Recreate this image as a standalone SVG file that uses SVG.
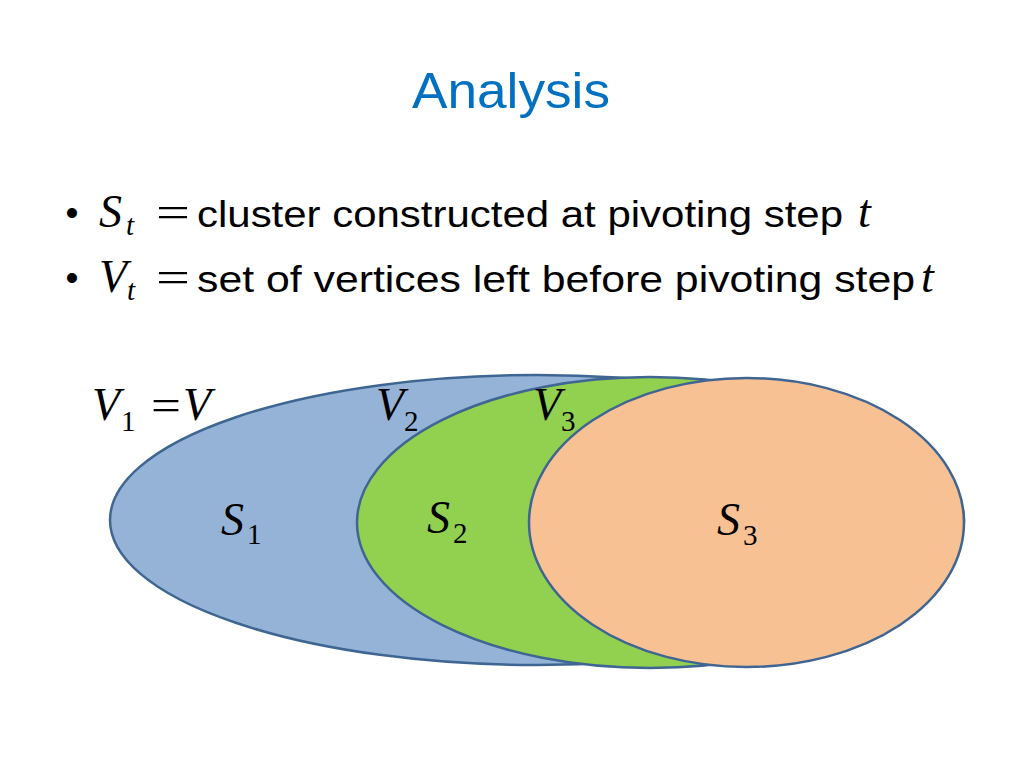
<svg xmlns="http://www.w3.org/2000/svg" width="1024" height="768" viewBox="0 0 1024 768">
  <style>
    .title { font-family: "Liberation Sans", Arial, sans-serif; font-size: 50px; fill: #0070C0; }
    .body { font-family: "Liberation Sans", Arial, sans-serif; font-size: 37px; fill: #000; }
    .math { font-family: "Liberation Serif", "Times New Roman", serif; font-style: italic; font-size: 46px; fill: #000; }
    .sub { font-family: "Liberation Serif", "Times New Roman", serif; font-size: 29px; }
    .subi { font-family: "Liberation Serif", "Times New Roman", serif; font-style: italic; font-size: 29px; }
    .eq { font-family: "Liberation Serif", "Times New Roman", serif; font-style: normal; font-size: 44px; fill: #000; }
    .set { stroke: #3F6592; stroke-width: 2.5; }
  </style>
  <rect width="1024" height="768" fill="#FFFFFF"/>

  <text class="title" x="412" y="108" textLength="198" lengthAdjust="spacingAndGlyphs">Analysis</text>

  <g id="bullet1">
    <text class="body" x="72" y="225" text-anchor="middle">•</text>
    <text class="math" x="99" y="227">S</text>
    <text class="subi" x="126" y="235">t</text>
    <text class="eq" x="156" y="227" textLength="34" lengthAdjust="spacingAndGlyphs">=</text>
    <text class="body" x="197" y="227" textLength="646" lengthAdjust="spacingAndGlyphs">cluster constructed at pivoting step</text>
    <text class="math" x="858" y="227">t</text>
  </g>
  <g id="bullet2">
    <text class="body" x="72" y="290" text-anchor="middle">•</text>
    <text class="math" x="99" y="292">V</text>
    <text class="subi" x="127" y="300">t</text>
    <text class="eq" x="156" y="292" textLength="34" lengthAdjust="spacingAndGlyphs">=</text>
    <text class="body" x="197" y="292" textLength="718" lengthAdjust="spacingAndGlyphs">set of vertices left before pivoting step</text>
    <text class="math" x="921" y="292">t</text>
  </g>

  <g id="S1">
    <ellipse class="set" cx="537" cy="520" rx="427" ry="145" fill="#95B3D7"/>
  </g>
  <g id="S2">
    <ellipse class="set" cx="650" cy="522.5" rx="293" ry="145.5" fill="#92D050"/>
  </g>
  <g id="S3">
    <ellipse class="set" cx="746.5" cy="522.5" rx="217.5" ry="144.5" fill="#F8C193"/>
  </g>

  <g id="labels">
    <text class="math" x="92" y="420">V</text>
    <text class="sub" x="121" y="431">1</text>
    <text class="eq" x="151" y="420" textLength="30" lengthAdjust="spacingAndGlyphs">=</text>
    <text class="math" x="183" y="420">V</text>

    <text class="math" x="376" y="420">V</text>
    <text class="sub" x="404" y="431">2</text>

    <text class="math" x="533" y="420">V</text>
    <text class="sub" x="561" y="431">3</text>

    <text class="math" x="221" y="535">S</text>
    <text class="sub" x="247" y="544">1</text>

    <text class="math" x="427" y="533">S</text>
    <text class="sub" x="453" y="543">2</text>

    <text class="math" x="717" y="535">S</text>
    <text class="sub" x="743" y="545">3</text>
  </g>
</svg>
